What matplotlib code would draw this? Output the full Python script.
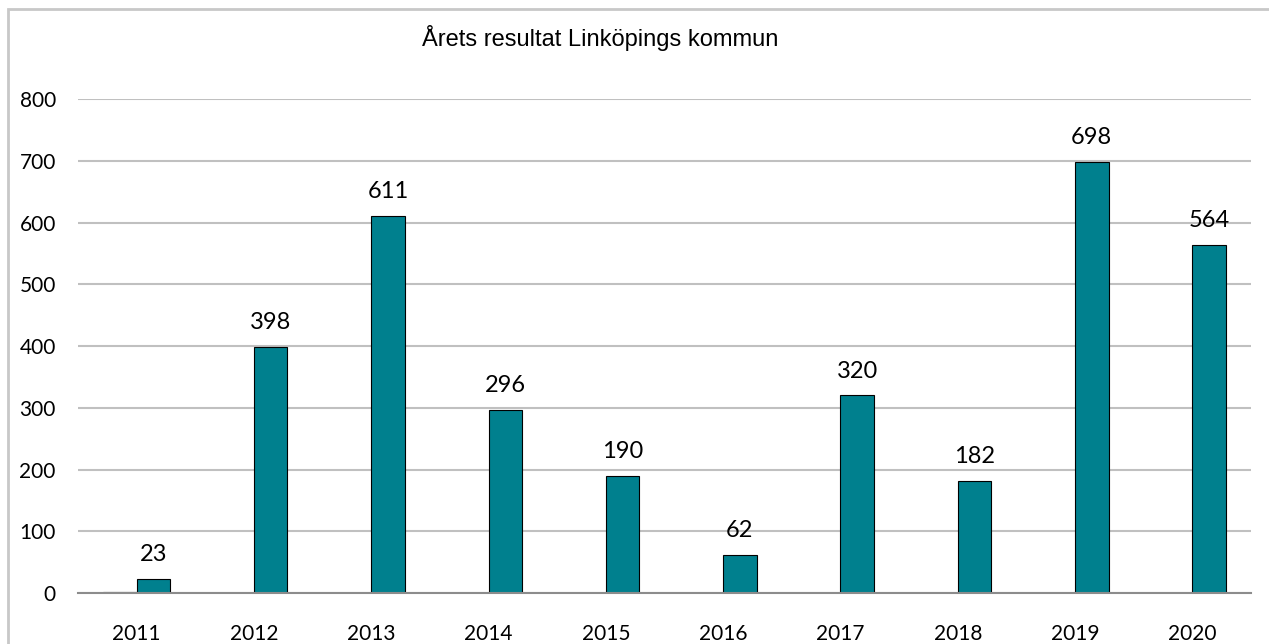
import numpy as np
import matplotlib.pyplot as plt
from matplotlib.patches import Rectangle


# Data
years = ['2011', '2012', '2013', '2014', '2015', '2016', '2017', '2018', '2019', '2020']
resultat = [23, 398, 611, 296, 190, 62, 320, 182, 698, 564]
# hidden first series, only a sliver is visible for 2011
first_series = [1, np.nan, np.nan, np.nan, np.nan, np.nan, np.nan, np.nan, np.nan, np.nan]
yticks = [0, 100, 200, 300, 400, 500, 600, 700, 800]

bar_color = '#00808E'

fig = plt.figure(figsize=(12.69, 6.44), dpi=100, facecolor='white')
ax = fig.add_axes([78/1269, 1-593/644, 1173/1269, 494/644])

x = np.arange(len(years))
w = 1/3.5
ax.bar(x - w/2, first_series, width=w, color=bar_color, edgecolor='black', linewidth=0.8, zorder=3)
ax.bar(x + w/2, resultat, width=w, color=bar_color, edgecolor='black', linewidth=0.8, zorder=3)

for xi, v in zip(x, resultat):
    ax.annotate(str(v), (xi + w/2, v), xytext=(0, 10), textcoords='offset points',
                ha='center', va='bottom', fontsize=17, family='Lato')

ax.set_xlim(-0.5, len(years) - 0.5)
ax.set_ylim(0, 800)
ax.set_yticks(yticks)
ax.set_xticks(x)
ax.set_xticklabels(years, fontsize=15, family='Lato')
ax.set_yticklabels([str(t) for t in yticks], fontsize=15, family='Lato')
ax.tick_params(axis='x', length=0, pad=22)
ax.tick_params(axis='y', length=0, pad=16)

ax.grid(axis='y', color='#C0C0C0', linewidth=1.5, zorder=0)
for s in ['top', 'right', 'left']:
    ax.spines[s].set_visible(False)
ax.spines['bottom'].set_color('#8C8C8C')
ax.spines['bottom'].set_linewidth(1.5)
ax.spines['bottom'].set_zorder(4)

fig.text(600/1269, 1-38/644, 'Årets resultat Linköpings kommun', ha='center', va='center',
         fontsize=17, family='Liberation Sans')

# outer chart frame (cut off at right and bottom)
fig.patches.append(Rectangle((7.5/1269, -0.05), 1.1, 1-8.5/644+0.05, transform=fig.transFigure,
                             fill=False, edgecolor='#C8C8C8', linewidth=2))

fig.savefig('out.png', dpi=100, facecolor='white')
